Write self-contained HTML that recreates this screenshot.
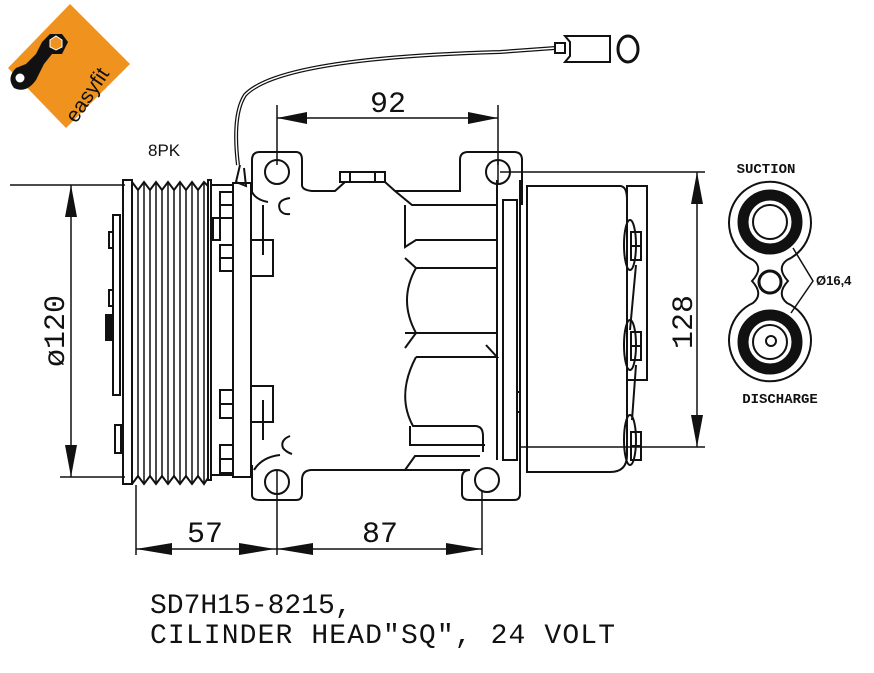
<!DOCTYPE html>
<html><head><style>
html,body{margin:0;padding:0;background:#fff;}
svg{display:block;}
text{font-family:"Liberation Sans",sans-serif;}
.m{font-family:"Liberation Mono",monospace;}
</style></head><body>
<svg width="874" height="673" viewBox="0 0 874 673" xmlns="http://www.w3.org/2000/svg">
<rect width="874" height="673" fill="#fff"/>
<!-- logo -->
<polygon points="70,4 130,64 66,128 8,68" fill="#f0921e"/>
<g fill="#111">
<path d="M50,34 L62,34 L68,42 L62,54 L52,54 L44,64 L36,80 Q26,94 14,88 Q6,78 16,68 L26,64 L36,54 L42,42 Z"/>
</g>
<polygon points="56,36 62,40 62,47 56,50 50,47 50,40" fill="#f0921e" stroke="#fff" stroke-width="1"/>
<circle cx="20" cy="78" r="4.5" fill="#fff"/>
<text x="0" y="0" transform="translate(76,124) rotate(-56)" font-size="21" fill="#111">easyfit</text>

<g fill="none" stroke="#111" stroke-width="2">
<!-- cable -->
<path d="M555,48 L500,52 Q280,58 245,95 Q232,115 238,165" stroke-width="4"/>
<path d="M555,48 L500,52 Q280,58 245,95 Q232,115 238,165" stroke="#fff" stroke-width="1.5"/>
<path d="M240,165 L236,182 L246,186 L244,168"/>
<rect x="555" y="43" width="10" height="10"/>
<path d="M565,36 L570,42 L570,56 L565,62 L610,62 L610,36 Z"/>
<ellipse cx="628" cy="49" rx="10" ry="13" stroke-width="3"/>

<!-- pulley -->
<rect x="123" y="180" width="9" height="304"/>
<path d="M132,182 L138,190 L144,182 L150,190 L156,182 L162,190 L168,182 L174,190 L180,182 L186,190 L192,182 L198,190 L204,182 L208,186 L208,478 L204,484 L198,476 L192,484 L186,476 L180,484 L174,476 L168,484 L162,476 L156,484 L150,476 L144,484 L138,476 L132,484"/>
<g stroke-width="1.5">
<path d="M138,190 V476 M144,182 V484 M150,190 V476 M156,182 V484 M162,190 V476 M168,182 V484 M174,190 V476 M180,182 V484 M186,190 V476 M192,182 V484 M198,190 V476 M204,182 V484"/>
</g>
<rect x="208" y="180" width="3" height="300"/>
<rect x="113" y="215" width="7" height="180"/>
<rect x="109" y="232" width="4" height="16"/>
<rect x="109" y="290" width="4" height="16"/>
<rect x="106" y="315" width="7" height="25" fill="#111"/>
<rect x="115" y="425" width="6" height="28"/>

<!-- left flange & bolts -->
<rect x="211" y="185" width="22" height="290"/>
<rect x="233" y="183" width="18" height="294"/>
<rect x="220" y="192" width="13" height="26"/><path d="M220,205 H233"/>
<rect x="220" y="245" width="13" height="26"/><path d="M220,258 H233"/>
<rect x="220" y="390" width="13" height="28"/><path d="M220,404 H233"/>
<rect x="220" y="445" width="13" height="28"/><path d="M220,459 H233"/>
<rect x="213" y="218" width="7" height="22"/>
<rect x="251" y="240" width="22" height="36"/>
<rect x="251" y="386" width="22" height="36"/>
<path d="M263,205 V255 M263,400 V440"/>
<path d="M290,198 Q276,200 280,210 Q283,215 290,214 M290,436 Q280,440 283,448 Q286,452 292,454"/>

<!-- ears -->
<path d="M252,160 Q252,152 260,152 H296 Q302,152 302,160 V185 Q302,190 312,191 H335 L345,182 H385 L395,191 L460,191 V160 Q460,152 468,152 H514 Q522,152 522,160 V205"/>
<circle cx="277" cy="172" r="12"/>
<circle cx="498" cy="172" r="12"/>
<path d="M252,160 V192 Q256,200 268,202"/>
<path d="M252,465 V495 Q252,500 260,500 H296 Q302,500 302,494 V480 Q302,470 312,470 H470"/>
<path d="M470,470 Q462,470 462,478 V494 Q462,500 470,500 H514 Q520,500 520,494 V465"/>
<circle cx="277" cy="482" r="12"/>
<circle cx="487" cy="480" r="12"/>
<path d="M254,470 Q262,457 280,455"/>
<rect x="340" y="172" width="45" height="10"/>
<path d="M350,172 V182 M375,172 V182"/>
<!-- body ribs -->
<path d="M395,191 L412,205 H497"/>
<path d="M497,180 V460"/>
<path d="M405,205 V247 L416,240 H497 M405,258 L416,268 H497"/>
<path d="M416,268 Q398,300 416,333 H497 M405,333 L416,333 L405,348 M416,357 H497 L486,345"/>
<path d="M416,357 Q396,395 413,426 H475 Q483,426 483,436 V452"/>
<path d="M410,426 V445 H485"/>
<path d="M405,470 L415,456 H480"/>
<rect x="503" y="200" width="14" height="260"/>
<path d="M517,392 H520 V412 H517"/>

<!-- rear cylinder -->
<path d="M527,186 H620 Q627,186 627,200 V455 Q627,472 610,472 H527 Z"/>
<path d="M520,180 V478"/>
<rect x="627" y="186" width="20" height="194"/>
<g>
<ellipse cx="630" cy="245" rx="6" ry="25"/><rect x="631" y="232" width="10" height="28"/><path d="M631,246 H641"/>
<ellipse cx="630" cy="345" rx="6" ry="25"/><rect x="631" y="332" width="10" height="28"/><path d="M631,346 H641"/>
<ellipse cx="630" cy="440" rx="6" ry="25"/><rect x="631" y="432" width="10" height="28"/><path d="M631,446 H641"/>
</g>
<path d="M636,265 L630,330 M636,365 L632,420"/>

<!-- dimensions -->
<g stroke-width="1.5">
<path d="M277,105 V165 M498,105 V165"/>
<path d="M277,118 H498"/>
<path d="M500,172 H705 M520,447 H705"/>
<path d="M697,172 V447"/>
<path d="M10,185 H125 M60,477 H125"/>
<path d="M71,185 V477"/>
<path d="M136,485 V555 M277,490 V555 M482,490 V555"/>
<path d="M136,549 H482"/>
<path d="M498,160 V185 M277,470 V490"/>
</g>
</g>
<g fill="#111">
<polygon points="277,118 307,112 307,124"/>
<polygon points="498,118 468,112 468,124"/>
<polygon points="697,172 691,204 703,204"/>
<polygon points="697,447 691,415 703,415"/>
<polygon points="71,185 65,217 77,217"/>
<polygon points="71,477 65,445 77,445"/>
<polygon points="136,549 172,543 172,555"/>
<polygon points="275,549 239,543 239,555"/>
<polygon points="277,549 313,543 313,555"/>
<polygon points="482,549 446,543 446,555"/>
</g>
<g class="m" fill="#111" font-size="30">
<text x="388" y="112" text-anchor="middle" class="m">92</text>
<text x="205" y="542" text-anchor="middle" class="m">57</text>
<text x="380" y="542" text-anchor="middle" class="m">87</text>
<text transform="translate(692,322) rotate(-90)" text-anchor="middle" class="m">128</text>
<text transform="translate(64,331) rotate(-90)" text-anchor="middle" class="m">ø120</text>
</g>
<text x="148" y="156" font-size="17" fill="#111">8PK</text>

<!-- ports -->
<g fill="none" stroke="#111" stroke-width="2">
<path d="M753,260 A41,41 0 1 1 787,260 Q776,268 788,281 Q776,294 787,303 A41,41 0 1 1 753,303 Q764,294 752,281 Q764,268 753,260 Z"/>
<circle cx="770" cy="222" r="27" stroke-width="11"/>
<circle cx="770" cy="222" r="17"/>
<circle cx="770" cy="342" r="27" stroke-width="11"/>
<circle cx="770" cy="342" r="17"/>
<circle cx="771" cy="341" r="5"/>
<circle cx="770" cy="282" r="11" stroke-width="3"/>
<path d="M793,248 L813,281 L791,313" stroke-width="1.5"/>
</g>
<g font-family="Liberation Mono,monospace" font-weight="bold" fill="#111">
<text x="766" y="173" font-size="14" text-anchor="middle" class="m">SUCTION</text>
<text x="780" y="403" font-size="14" text-anchor="middle" class="m">DISCHARGE</text>
<text x="816" y="285" font-size="13" style="font-family:'Liberation Sans',sans-serif">Ø16,4</text>
</g>

<g class="m" fill="#111" font-size="28">
<text x="150" y="613" class="m">SD7H15-8215,</text>
<text x="150" y="643" class="m" textLength="465">CILINDER HEAD"SQ", 24 VOLT</text>
</g>
</svg>
</body></html>
